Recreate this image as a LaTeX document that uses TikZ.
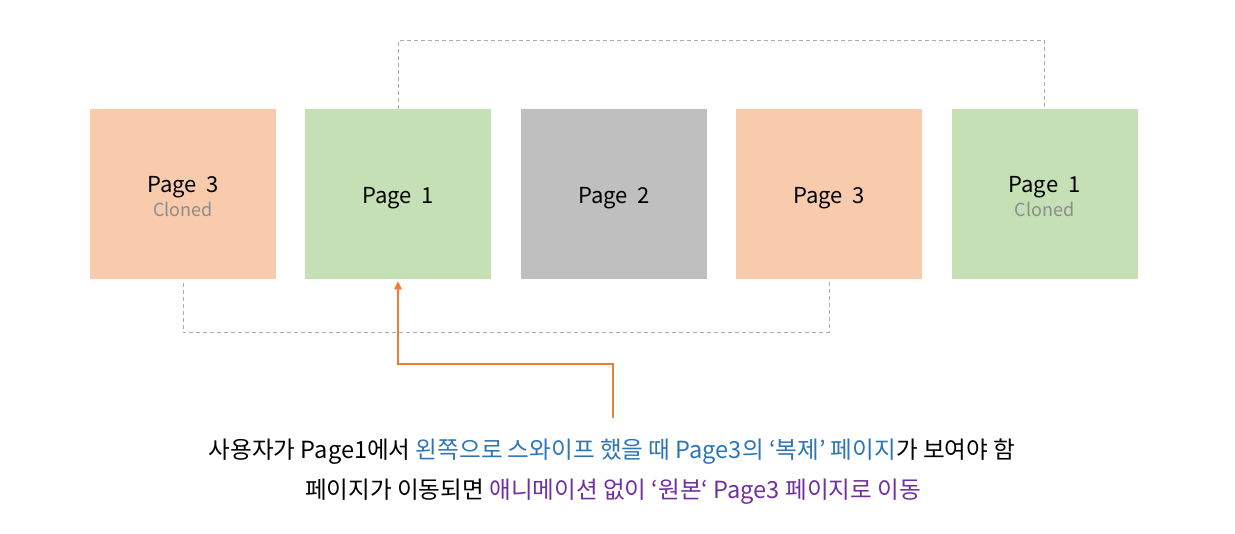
\documentclass[tikz,border=0pt]{standalone}
\usepackage{fontspec}
\setmainfont{Noto Sans CJK KR}
\newfontfamily\notefont{Noto Sans CJK KR}
\usetikzlibrary{arrows.meta}
\definecolor{peach}{HTML}{F8CBAD}
\definecolor{leaf}{HTML}{C5E0B4}
\definecolor{stone}{HTML}{BFBFBF}
\definecolor{swipeorange}{HTML}{ED7D31}
\definecolor{loopgray}{HTML}{AFABAB}
\definecolor{noteblue}{HTML}{2E75B6}
\definecolor{notepurple}{HTML}{7030A0}
\tikzset{
	page/.style={minimum width=139.5pt, minimum height=127.5pt, inner sep=0pt, align=center, font=\fontsize{16.5pt}{18pt}\selectfont},
	loopline/.style={draw=loopgray, line width=0.75pt, dash pattern=on 3pt off 2.25pt},
	swipe/.style={draw=swipeorange, line width=1.5pt, -{Triangle[length=6pt,width=5.5pt]}},
	note/.style={font=\notefont\fontsize{17.7pt}{19pt}\selectfont, inner sep=0pt}}
\newcommand{\pagetag}[1]{\raisebox{-3.5pt}[\height][\depth]{#1}}
\newcommand{\clonetag}[1]{\raisebox{-4pt}[\height][\depth]{\begin{tabular}{@{}c@{}}#1\\{\fontsize{13.5pt}{15pt}\selectfont\color{black!45}Cloned}\end{tabular}}}
\begin{document}
\begin{tikzpicture}[x=0.75pt,y=0.75pt,yscale=-1,xscale=1]
	\useasboundingbox (0,0) rectangle (1235,534);

	% Pages
	\node[page, fill=peach] (p3c) at (183,194) {\clonetag{Page~~3}};
	\node[page, fill=leaf] (p1) at (398,194) {\pagetag{Page~~1}};
	\node[page, fill=stone] (p2) at (614,194) {\pagetag{Page~~2}};
	\node[page, fill=peach] (p3) at (829,194) {\pagetag{Page~~3}};
	\node[page, fill=leaf] (p1c) at (1044.5,194) {\clonetag{Page~~1}};

	% Loops
	\draw[loopline] (p1.north) -- ++(0,-68) -| (p1c.north);
	\draw[loopline, shorten <=2.5pt, shorten >=1pt] (p3c.south) -- ++(0,53) -| (p3.south);

	% Notes
	\node[note, anchor=center] (note1) at (612,452) {사용자가 Page1에서 \textcolor{noteblue}{왼쪽으로 스와이프 했을 때 Page3의 ‘복제’ 페이지}가 보여야 함};
	\node[note, anchor=center] (note2) at (613,492) {페이지가 이동되면 \textcolor{notepurple}{애니메이션 없이 ‘원본‘ Page3 페이지로 이동}};

	% Swipe
	\coordinate (src) at (613,418);
	\draw[swipe, shorten >=1.5pt] (src) -- ++(0,-54) -| (p1.south);

\end{tikzpicture}
\end{document}
